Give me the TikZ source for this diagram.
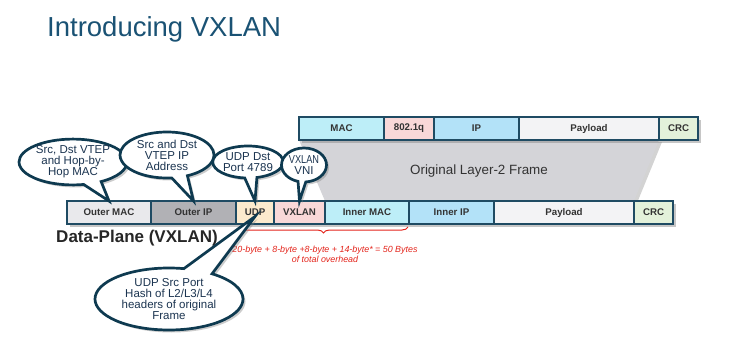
\documentclass[tikz,border=0pt]{standalone}
\usepackage{fontspec}
\setmainfont{Liberation Sans}
\usetikzlibrary{positioning,shapes.callouts,shadows,backgrounds,decorations.pathreplacing}
\definecolor{VXTitle}{HTML}{1A5274}
\definecolor{VXEdge}{HTML}{1F4B63}
\definecolor{VXBubble}{HTML}{0E3A50}
\definecolor{VXInk}{HTML}{1B3450}
\definecolor{VXRed}{HTML}{E3241B}
\definecolor{VXMac}{HTML}{BDEEF8}
\definecolor{VXIp}{HTML}{B3E2F8}
\definecolor{VXTag}{HTML}{F9D8D8}
\definecolor{VXPay}{HTML}{F3F3F5}
\definecolor{VXCrc}{HTML}{E3F1DA}
\definecolor{VXOmac}{HTML}{E9E9EC}
\definecolor{VXOip}{HTML}{B1B1B5}
\definecolor{VXUdp}{HTML}{FCEACD}
\definecolor{VXFrame}{HTML}{D4D4D8}

\begin{document}
\begin{tikzpicture}[x=1pt,y=-1pt,
  field/.style={draw=VXEdge,line width=1.3pt,outer sep=0pt,inner sep=0pt,minimum height=23pt,
    font=\fontsize{9.7}{11}\selectfont\bfseries,text=black!80,
    drop shadow={opacity=.45,shadow xshift=3pt,shadow yshift=-3pt}},
  bubble/.style={ellipse callout,draw=VXBubble,line width=2.7pt,fill=white,inner sep=0pt,align=center,
    text=VXInk,font=\fontsize{11.5}{11}\selectfont,callout pointer arc=20,
    drop shadow={opacity=.4,shadow xshift=2.5pt,shadow yshift=-2.5pt}},
  overhead/.style={decorate,decoration={brace,mirror,amplitude=6pt},VXRed,line width=1pt},
]
\useasboundingbox (0,0) rectangle (746,345);
\node[anchor=base west,inner sep=0pt,text=VXTitle,font=\fontsize{27.5}{30}\selectfont] (title) at (47,37) {Introducing VXLAN};

% original layer-2 frame
\node[field,fill=VXMac,minimum width=85pt,anchor=north west] (mac) at (299,117) {MAC};
\node[field,fill=VXTag,minimum width=50pt,right=0pt of mac] (dot1q) {802.1q};
\node[field,fill=VXIp,minimum width=85pt,right=0pt of dot1q] (ip) {IP};
\node[field,fill=VXPay,minimum width=140pt,right=0pt of ip] (pay) {Payload};
\node[field,fill=VXCrc,minimum width=39pt,right=0pt of pay] (tcrc) {CRC};

% vxlan encapsulated frame
\node[field,fill=VXOmac,minimum width=84pt,anchor=north west] (omac) at (67,201) {Outer MAC};
\node[field,fill=VXOip,minimum width=85pt,right=0pt of omac] (oip) {Outer IP};
\node[field,fill=VXUdp,minimum width=38pt,right=0pt of oip] (udp) {UDP};
\node[field,fill=VXTag,minimum width=51pt,right=0pt of udp] (vxlan) {VXLAN};
\node[field,fill=VXMac,minimum width=84pt,right=0pt of vxlan] (imac) {Inner MAC};
\node[field,fill=VXIp,minimum width=85pt,right=0pt of imac] (iip) {Inner IP};
\node[field,fill=VXPay,minimum width=140pt,right=0pt of iip] (ipay) {Payload};
\node[field,fill=VXCrc,minimum width=39pt,right=0pt of ipay] (icrc) {CRC};

\begin{scope}[on background layer]
\fill[VXFrame,drop shadow={opacity=.35,shadow xshift=3pt,shadow yshift=-2pt}]
  (mac.south west) -- (tcrc.south west) -- (icrc.north west) -- (imac.north west) -- cycle;
\end{scope}
\node[text=black!80,font=\fontsize{13.4}{15}\selectfont] (orig) at (479,171) {Original Layer-2 Frame};

\node[font=\fontsize{17}{19}\selectfont\bfseries,text=black!85] (plane) at (137,238) {Data-Plane (VXLAN)};

\draw[overhead] ([xshift=3pt,yshift=-3pt]udp.south west) -- ([xshift=-1pt,yshift=-3pt]imac.south east);
\node[text=VXRed,align=center,font=\fontsize{8.9}{10}\selectfont\itshape] (bytes) at (325,254)
  {20-byte + 8-byte +8-byte + 14-byte* = 50 Bytes\\of total overhead};

% callouts
\node[bubble,minimum width=108pt,minimum height=41pt,callout absolute pointer={(omac.north)}] (srcmac) at (73,162)
  {Src, Dst VTEP\\and Hop-by-\\Hop MAC};
\node[bubble,minimum width=94pt,minimum height=46pt,callout absolute pointer={(oip.north)}] (srcip) at (167,155)
  {Src and Dst\\VTEP IP\\Address};
\node[bubble,minimum width=70pt,minimum height=32pt,callout absolute pointer={(udp.north)}] (dport) at (248,162)
  {UDP Dst\\Port 4789};
\node[bubble,minimum width=45pt,minimum height=34pt,callout absolute pointer={(vxlan.north)}] (vni) at (304,165)
  {\scalebox{.8}[1]{VXLAN}\\VNI};
\node[bubble,minimum width=148pt,minimum height=62pt,callout pointer arc=24,
  callout absolute pointer={([yshift=-4pt]udp.center)}] (sport) at (169,299)
  {UDP Src Port\\Hash of L2/L3/L4\\headers of original\\Frame};
\end{tikzpicture}
\end{document}
